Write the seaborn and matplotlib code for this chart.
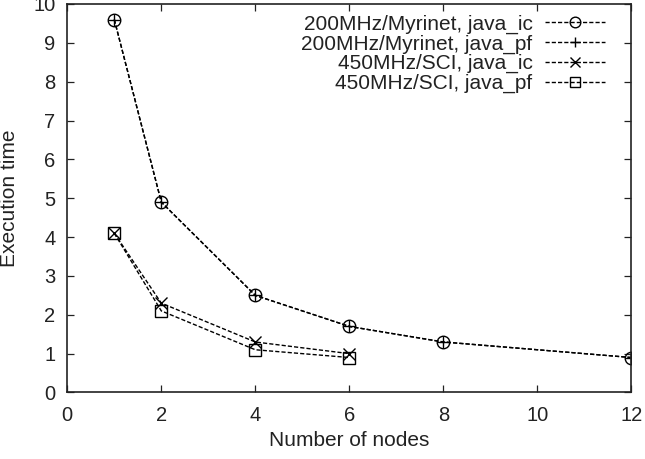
import matplotlib
matplotlib.use("Agg")
import matplotlib.pyplot as plt
import seaborn as sns
import pandas as pd

# execution time vs number of nodes
nodes_myri = [1, 2, 4, 6, 8, 12]
myri_ic = [9.6, 4.9, 2.5, 1.7, 1.3, 0.9]
myri_pf = [9.6, 4.9, 2.5, 1.7, 1.3, 0.9]
nodes_sci = [1, 2, 4, 6]
sci_ic = [4.1, 2.3, 1.3, 1.0]
sci_pf = [4.1, 2.1, 1.1, 0.9]

labels = ["200MHz/Myrinet, java_ic", "200MHz/Myrinet, java_pf",
          "450MHz/SCI, java_ic", "450MHz/SCI, java_pf"]
markers = ["o", "+", "x", "s"]

sns.set_style("ticks")
plt.rcParams['font.family'] = ['Liberation Sans', 'DejaVu Sans']

fig = plt.figure(figsize=(6.45, 4.59), dpi=100)
ax = fig.add_axes([0.1043, 0.1449, 0.8747, 0.8464])

series = [(nodes_myri, myri_ic), (nodes_myri, myri_pf),
          (nodes_sci, sci_ic), (nodes_sci, sci_pf)]
for (x, y), lab, m in zip(series, labels, markers):
    df = pd.DataFrame({"nodes": x, "time": y})
    sns.lineplot(data=df, x="nodes", y="time", ax=ax, color="black",
                 linewidth=1.0, linestyle=(0, (3, 1.5)), marker=m,
                 markersize=9, markerfacecolor="none", markeredgecolor="black",
                 markeredgewidth=1.0, label=lab)

ax.set_xlim(0, 12)
ax.set_ylim(0, 10)
ax.set_xticks(range(0, 13, 2))
ax.set_yticks(range(0, 11))
ax.tick_params(direction="in", length=5, top=True, right=True, labelsize=14.5,
               width=0.9, colors="#222222")
ax.tick_params(axis="x", pad=10)
ax.tick_params(axis="y", pad=8.5)
for s in ax.spines.values():
    s.set_visible(True)
    s.set_linewidth(1.2)
    s.set_color("#222222")
ax.set_xlabel("Number of nodes", fontsize=15, labelpad=4, color="#222222")
ax.set_ylabel("Execution time", fontsize=15, labelpad=10, color="#222222")

leg = ax.legend(loc="upper right", bbox_to_anchor=(0.953, 0.973),
                markerfirst=False, frameon=False, fontsize=15,
                handlelength=2.9, handletextpad=0.58, labelspacing=0.03,
                borderaxespad=0, borderpad=0, markerscale=0.85)
for t in leg.get_texts():
    t.set_color("#222222")

fig.savefig("out.png", dpi=100)
